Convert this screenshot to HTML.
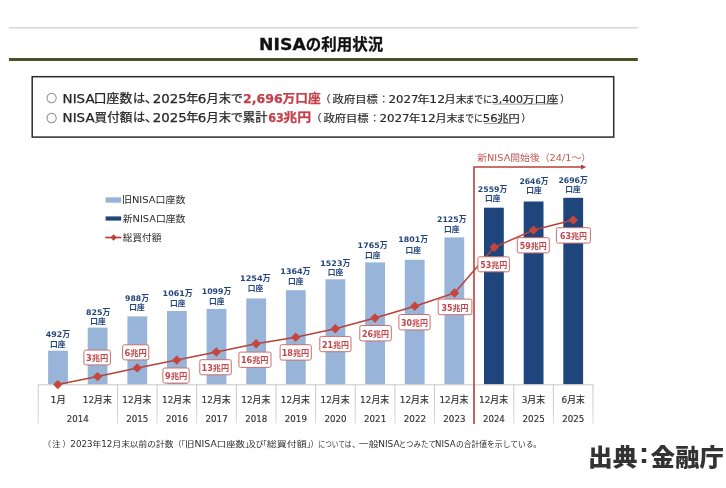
<!DOCTYPE html>
<html lang="ja"><head><meta charset="utf-8"><title>NISAの利用状況</title>
<style>
html,body{margin:0;padding:0;background:#fff;}
body{width:726px;height:488px;overflow:hidden;}
svg{display:block;font-family:"DejaVu Sans","Liberation Sans","Noto Sans CJK JP",sans-serif;filter:blur(0.35px);}
text{white-space:pre;}
</style></head><body>
<svg width="726" height="488" viewBox="0 0 726 488">
<rect width="726" height="488" fill="#fff"/>
<rect x="9.0" y="27.2" width="628.8" height="1.3" fill="#d2d2d2"/>
<rect x="9.0" y="58.0" width="628.8" height="3.0" fill="#465325"/>
<text x="259.13" y="50.12" font-size="15.5" font-weight="700" fill="#111" textLength="46.64" lengthAdjust="spacingAndGlyphs" stroke="#111" stroke-width="0.3">NISA</text>
<text x="305.80" y="50.48" font-size="15.5" font-weight="700" fill="#111" textLength="77.36" lengthAdjust="spacingAndGlyphs" stroke="#111" stroke-width="0.3">の利用状況</text>
<rect x="32.2" y="76.7" width="581.5" height="60.4" fill="#fff" stroke="#2b2b2b" stroke-width="1.5"/>
<text x="46.39" y="102.00" font-size="10.6" font-weight="400" fill="#999" textLength="10.71" lengthAdjust="spacingAndGlyphs" font-family='"Noto Sans CJK JP",sans-serif' stroke="#999" stroke-width="0.5">○</text>
<text x="46.39" y="121.50" font-size="10.6" font-weight="400" fill="#999" textLength="10.71" lengthAdjust="spacingAndGlyphs" font-family='"Noto Sans CJK JP",sans-serif' stroke="#999" stroke-width="0.5">○</text>
<text x="62.60" y="102.50" font-size="12" font-weight="400" fill="#262626" textLength="31.99" lengthAdjust="spacingAndGlyphs" stroke="#262626" stroke-width="0.25">NISA</text>
<text x="93.80" y="102.50" font-size="12" font-weight="400" fill="#262626" textLength="38.45" lengthAdjust="spacingAndGlyphs" stroke="#262626" stroke-width="0.25">口座数</text>
<text x="132.94" y="102.50" font-size="12" font-weight="400" fill="#262626" textLength="12.14" lengthAdjust="spacingAndGlyphs" stroke="#262626" stroke-width="0.25">は</text>
<text x="144.77" y="102.50" font-size="12" font-weight="400" fill="#262626" textLength="13.31" lengthAdjust="spacingAndGlyphs" stroke="#262626" stroke-width="0.25">、</text>
<text x="152.77" y="102.50" font-size="12" font-weight="400" fill="#262626" textLength="33.89" lengthAdjust="spacingAndGlyphs" stroke="#262626" stroke-width="0.25">2025</text>
<text x="186.19" y="102.50" font-size="12" font-weight="400" fill="#262626" textLength="12.23" lengthAdjust="spacingAndGlyphs" stroke="#262626" stroke-width="0.25">年</text>
<text x="197.76" y="102.50" font-size="12" font-weight="400" fill="#262626" textLength="8.56" lengthAdjust="spacingAndGlyphs" stroke="#262626" stroke-width="0.25">6</text>
<text x="206.49" y="102.50" font-size="12" font-weight="400" fill="#262626" textLength="36.54" lengthAdjust="spacingAndGlyphs" stroke="#262626" stroke-width="0.25">月末で</text>
<text x="243.05" y="102.50" font-size="12" font-weight="700" fill="#c5404c" textLength="39.80" lengthAdjust="spacingAndGlyphs" stroke="#c5404c" stroke-width="0.25">2,696</text>
<text x="282.64" y="102.50" font-size="12" font-weight="700" fill="#c5404c" textLength="38.01" lengthAdjust="spacingAndGlyphs" stroke="#c5404c" stroke-width="0.25">万口座</text>
<text x="320.60" y="102.50" font-size="10" font-weight="400" fill="#262626" stroke="#262626" stroke-width="0.15">（</text>
<text x="332.62" y="102.50" font-size="10" font-weight="400" fill="#262626" textLength="45.16" lengthAdjust="spacingAndGlyphs" stroke="#262626" stroke-width="0.15">政府目標</text>
<text x="378.75" y="102.50" font-size="10" font-weight="400" fill="#262626" stroke="#262626" stroke-width="0.15">：</text>
<text x="388.52" y="102.50" font-size="10" font-weight="400" fill="#262626" textLength="30.01" lengthAdjust="spacingAndGlyphs" stroke="#262626" stroke-width="0.15">2027</text>
<text x="417.28" y="102.50" font-size="10" font-weight="400" fill="#262626" textLength="12.44" lengthAdjust="spacingAndGlyphs" stroke="#262626" stroke-width="0.15">年</text>
<text x="429.37" y="102.50" font-size="10" font-weight="400" fill="#262626" textLength="15.64" lengthAdjust="spacingAndGlyphs" stroke="#262626" stroke-width="0.15">12</text>
<text x="444.64" y="102.50" font-size="10" font-weight="400" fill="#262626" textLength="22.21" lengthAdjust="spacingAndGlyphs" stroke="#262626" stroke-width="0.15">月末</text>
<text x="465.45" y="102.50" font-size="10" font-weight="400" fill="#262626" textLength="26.53" lengthAdjust="spacingAndGlyphs" stroke="#262626" stroke-width="0.15">までに</text>
<text x="491.68" y="102.50" font-size="10" font-weight="400" fill="#262626" textLength="31.43" lengthAdjust="spacingAndGlyphs" stroke="#262626" stroke-width="0.15">3,400</text>
<text x="522.60" y="102.50" font-size="10" font-weight="400" fill="#262626" textLength="35.79" lengthAdjust="spacingAndGlyphs" stroke="#262626" stroke-width="0.15">万口座</text>
<text x="559.90" y="102.50" font-size="10" font-weight="400" fill="#262626" stroke="#262626" stroke-width="0.15">）</text>
<rect x="492.7" y="103.7" width="65.1" height="0.8" fill="#8a8a8a"/>
<text x="62.60" y="121.90" font-size="12" font-weight="400" fill="#262626" textLength="31.99" lengthAdjust="spacingAndGlyphs" stroke="#262626" stroke-width="0.25">NISA</text>
<text x="94.62" y="121.90" font-size="12" font-weight="400" fill="#262626" textLength="37.62" lengthAdjust="spacingAndGlyphs" stroke="#262626" stroke-width="0.25">買付額</text>
<text x="132.94" y="121.90" font-size="12" font-weight="400" fill="#262626" textLength="12.14" lengthAdjust="spacingAndGlyphs" stroke="#262626" stroke-width="0.25">は</text>
<text x="144.77" y="121.90" font-size="12" font-weight="400" fill="#262626" textLength="13.31" lengthAdjust="spacingAndGlyphs" stroke="#262626" stroke-width="0.25">、</text>
<text x="152.77" y="121.90" font-size="12" font-weight="400" fill="#262626" textLength="33.89" lengthAdjust="spacingAndGlyphs" stroke="#262626" stroke-width="0.25">2025</text>
<text x="186.19" y="121.90" font-size="12" font-weight="400" fill="#262626" textLength="12.23" lengthAdjust="spacingAndGlyphs" stroke="#262626" stroke-width="0.25">年</text>
<text x="197.76" y="121.90" font-size="12" font-weight="400" fill="#262626" textLength="8.56" lengthAdjust="spacingAndGlyphs" stroke="#262626" stroke-width="0.25">6</text>
<text x="206.49" y="121.90" font-size="12" font-weight="400" fill="#262626" textLength="36.54" lengthAdjust="spacingAndGlyphs" stroke="#262626" stroke-width="0.25">月末で</text>
<text x="242.83" y="121.90" font-size="12" font-weight="400" fill="#262626" textLength="24.64" lengthAdjust="spacingAndGlyphs" stroke="#262626" stroke-width="0.25">累計</text>
<text x="268.20" y="121.90" font-size="12" font-weight="700" fill="#c5404c" textLength="15.59" lengthAdjust="spacingAndGlyphs" stroke="#c5404c" stroke-width="0.25">63</text>
<text x="283.22" y="121.90" font-size="12" font-weight="700" fill="#c5404c" textLength="27.87" lengthAdjust="spacingAndGlyphs" stroke="#c5404c" stroke-width="0.25">兆円</text>
<text x="311.60" y="121.90" font-size="10" font-weight="400" fill="#262626" stroke="#262626" stroke-width="0.15">（</text>
<text x="323.42" y="121.90" font-size="10" font-weight="400" fill="#262626" textLength="45.27" lengthAdjust="spacingAndGlyphs" stroke="#262626" stroke-width="0.15">政府目標</text>
<text x="369.75" y="121.90" font-size="10" font-weight="400" fill="#262626" stroke="#262626" stroke-width="0.15">：</text>
<text x="379.41" y="121.90" font-size="10" font-weight="400" fill="#262626" textLength="30.22" lengthAdjust="spacingAndGlyphs" stroke="#262626" stroke-width="0.15">2027</text>
<text x="408.71" y="121.90" font-size="10" font-weight="400" fill="#262626" textLength="11.78" lengthAdjust="spacingAndGlyphs" stroke="#262626" stroke-width="0.15">年</text>
<text x="420.28" y="121.90" font-size="10" font-weight="400" fill="#262626" textLength="15.52" lengthAdjust="spacingAndGlyphs" stroke="#262626" stroke-width="0.15">12</text>
<text x="435.44" y="121.90" font-size="10" font-weight="400" fill="#262626" textLength="22.21" lengthAdjust="spacingAndGlyphs" stroke="#262626" stroke-width="0.15">月末</text>
<text x="456.57" y="121.90" font-size="10" font-weight="400" fill="#262626" textLength="26.20" lengthAdjust="spacingAndGlyphs" stroke="#262626" stroke-width="0.15">までに</text>
<text x="482.73" y="121.90" font-size="10" font-weight="400" fill="#262626" textLength="14.84" lengthAdjust="spacingAndGlyphs" stroke="#262626" stroke-width="0.15">56</text>
<text x="497.24" y="121.90" font-size="10" font-weight="400" fill="#262626" textLength="22.40" lengthAdjust="spacingAndGlyphs" stroke="#262626" stroke-width="0.15">兆円</text>
<text x="521.30" y="121.90" font-size="10" font-weight="400" fill="#262626" stroke="#262626" stroke-width="0.15">）</text>
<rect x="484.1" y="123.1" width="34.7" height="0.8" fill="#8a8a8a"/>
<rect x="105.6" y="197.3" width="15.6" height="5.4" fill="#98b4d8"/>
<text x="121.95" y="203.43" font-size="9.5" font-weight="400" fill="#262626" textLength="63.44" lengthAdjust="spacingAndGlyphs">旧NISA口座数</text>
<rect x="105.6" y="216.4" width="15.6" height="4.2" fill="#1f467c"/>
<text x="122.74" y="222.03" font-size="9.5" font-weight="400" fill="#262626" textLength="62.65" lengthAdjust="spacingAndGlyphs">新NISA口座数</text>
<line x1="105.2" y1="237.5" x2="121.4" y2="237.5" stroke="#b8423a" stroke-width="1.7"/>
<path d="M113.6 234.3 L116.8 237.5 L113.6 240.7 L110.4 237.5 Z" fill="#b8423a"/>
<text x="122.75" y="241.12" font-size="9.5" font-weight="400" fill="#262626" textLength="38.52" lengthAdjust="spacingAndGlyphs">総買付額</text>
<rect x="48.1" y="350.7" width="19.8" height="33.6" fill="#98b4d8"/>
<rect x="87.7" y="327.6" width="19.8" height="56.7" fill="#98b4d8"/>
<rect x="127.4" y="316.4" width="19.8" height="67.9" fill="#98b4d8"/>
<rect x="167.0" y="311.0" width="19.8" height="73.3" fill="#98b4d8"/>
<rect x="206.6" y="308.9" width="19.8" height="75.4" fill="#98b4d8"/>
<rect x="246.3" y="298.4" width="19.8" height="85.9" fill="#98b4d8"/>
<rect x="285.9" y="290.2" width="19.8" height="94.1" fill="#98b4d8"/>
<rect x="325.5" y="279.3" width="19.8" height="105.0" fill="#98b4d8"/>
<rect x="365.2" y="262.4" width="19.8" height="121.9" fill="#98b4d8"/>
<rect x="404.8" y="259.8" width="19.8" height="124.5" fill="#98b4d8"/>
<rect x="444.4" y="237.4" width="19.8" height="146.9" fill="#98b4d8"/>
<rect x="484.0" y="207.7" width="19.8" height="176.6" fill="#1f467c"/>
<rect x="523.7" y="201.5" width="19.8" height="182.8" fill="#1f467c"/>
<rect x="563.3" y="197.8" width="19.8" height="186.5" fill="#1f467c"/>
<rect x="38.2" y="384.3" width="554.8" height="1.0" fill="#c9c9c9"/>
<defs><linearGradient id="vg" x1="0" y1="0" x2="0" y2="1"><stop offset="0" stop-color="#c6c6c6"/><stop offset="0.7" stop-color="#cfcfcf"/><stop offset="1" stop-color="#e2e2e2"/></linearGradient></defs>
<rect x="37.7" y="384.3" width="1.0" height="39.5" fill="url(#vg)"/>
<rect x="117.0" y="384.3" width="1.0" height="39.5" fill="url(#vg)"/>
<rect x="156.6" y="384.3" width="1.0" height="39.5" fill="url(#vg)"/>
<rect x="196.2" y="384.3" width="1.0" height="39.5" fill="url(#vg)"/>
<rect x="235.9" y="384.3" width="1.0" height="39.5" fill="url(#vg)"/>
<rect x="275.5" y="384.3" width="1.0" height="39.5" fill="url(#vg)"/>
<rect x="315.1" y="384.3" width="1.0" height="39.5" fill="url(#vg)"/>
<rect x="354.7" y="384.3" width="1.0" height="39.5" fill="url(#vg)"/>
<rect x="394.4" y="384.3" width="1.0" height="39.5" fill="url(#vg)"/>
<rect x="434.0" y="384.3" width="1.0" height="39.5" fill="url(#vg)"/>
<rect x="473.6" y="384.3" width="1.0" height="39.5" fill="url(#vg)"/>
<rect x="513.3" y="384.3" width="1.0" height="39.5" fill="url(#vg)"/>
<rect x="552.9" y="384.3" width="1.0" height="39.5" fill="url(#vg)"/>
<rect x="592.5" y="384.3" width="1.0" height="39.5" fill="url(#vg)"/>
<text x="50.55" y="403.00" font-size="8.8" font-weight="400" fill="#303030" textLength="15.37" lengthAdjust="spacingAndGlyphs" stroke="#303030" stroke-width="0.15">1月</text>
<text x="82.73" y="403.00" font-size="8.8" font-weight="400" fill="#303030" textLength="29.11" lengthAdjust="spacingAndGlyphs" stroke="#303030" stroke-width="0.15">12月末</text>
<text x="122.36" y="403.00" font-size="8.8" font-weight="400" fill="#303030" textLength="29.11" lengthAdjust="spacingAndGlyphs" stroke="#303030" stroke-width="0.15">12月末</text>
<text x="161.99" y="403.00" font-size="8.8" font-weight="400" fill="#303030" textLength="29.11" lengthAdjust="spacingAndGlyphs" stroke="#303030" stroke-width="0.15">12月末</text>
<text x="201.62" y="403.00" font-size="8.8" font-weight="400" fill="#303030" textLength="29.11" lengthAdjust="spacingAndGlyphs" stroke="#303030" stroke-width="0.15">12月末</text>
<text x="241.25" y="403.00" font-size="8.8" font-weight="400" fill="#303030" textLength="29.11" lengthAdjust="spacingAndGlyphs" stroke="#303030" stroke-width="0.15">12月末</text>
<text x="280.88" y="403.00" font-size="8.8" font-weight="400" fill="#303030" textLength="29.11" lengthAdjust="spacingAndGlyphs" stroke="#303030" stroke-width="0.15">12月末</text>
<text x="320.51" y="403.00" font-size="8.8" font-weight="400" fill="#303030" textLength="29.11" lengthAdjust="spacingAndGlyphs" stroke="#303030" stroke-width="0.15">12月末</text>
<text x="360.14" y="403.00" font-size="8.8" font-weight="400" fill="#303030" textLength="29.11" lengthAdjust="spacingAndGlyphs" stroke="#303030" stroke-width="0.15">12月末</text>
<text x="399.77" y="403.00" font-size="8.8" font-weight="400" fill="#303030" textLength="29.11" lengthAdjust="spacingAndGlyphs" stroke="#303030" stroke-width="0.15">12月末</text>
<text x="439.40" y="403.00" font-size="8.8" font-weight="400" fill="#303030" textLength="29.11" lengthAdjust="spacingAndGlyphs" stroke="#303030" stroke-width="0.15">12月末</text>
<text x="479.03" y="403.00" font-size="8.8" font-weight="400" fill="#303030" textLength="29.11" lengthAdjust="spacingAndGlyphs" stroke="#303030" stroke-width="0.15">12月末</text>
<text x="521.72" y="403.00" font-size="8.8" font-weight="400" fill="#303030" textLength="23.41" lengthAdjust="spacingAndGlyphs" stroke="#303030" stroke-width="0.15">3月末</text>
<text x="561.61" y="403.00" font-size="8.8" font-weight="400" fill="#303030" textLength="23.15" lengthAdjust="spacingAndGlyphs" stroke="#303030" stroke-width="0.15">6月末</text>
<text x="66.84" y="422.12" font-size="8.8" font-weight="400" fill="#303030" textLength="21.87" lengthAdjust="spacingAndGlyphs" stroke="#303030" stroke-width="0.15">2014</text>
<text x="126.28" y="422.12" font-size="8.8" font-weight="400" fill="#303030" textLength="22.13" lengthAdjust="spacingAndGlyphs" stroke="#303030" stroke-width="0.15">2015</text>
<text x="165.91" y="422.12" font-size="8.8" font-weight="400" fill="#303030" textLength="22.13" lengthAdjust="spacingAndGlyphs" stroke="#303030" stroke-width="0.15">2016</text>
<text x="205.54" y="422.12" font-size="8.8" font-weight="400" fill="#303030" textLength="22.13" lengthAdjust="spacingAndGlyphs" stroke="#303030" stroke-width="0.15">2017</text>
<text x="245.17" y="422.12" font-size="8.8" font-weight="400" fill="#303030" textLength="22.13" lengthAdjust="spacingAndGlyphs" stroke="#303030" stroke-width="0.15">2018</text>
<text x="284.80" y="422.12" font-size="8.8" font-weight="400" fill="#303030" textLength="22.13" lengthAdjust="spacingAndGlyphs" stroke="#303030" stroke-width="0.15">2019</text>
<text x="324.43" y="422.12" font-size="8.8" font-weight="400" fill="#303030" textLength="22.13" lengthAdjust="spacingAndGlyphs" stroke="#303030" stroke-width="0.15">2020</text>
<text x="364.06" y="422.12" font-size="8.8" font-weight="400" fill="#303030" textLength="22.13" lengthAdjust="spacingAndGlyphs" stroke="#303030" stroke-width="0.15">2021</text>
<text x="403.69" y="422.12" font-size="8.8" font-weight="400" fill="#303030" textLength="22.39" lengthAdjust="spacingAndGlyphs" stroke="#303030" stroke-width="0.15">2022</text>
<text x="443.32" y="422.12" font-size="8.8" font-weight="400" fill="#303030" textLength="22.13" lengthAdjust="spacingAndGlyphs" stroke="#303030" stroke-width="0.15">2023</text>
<text x="482.96" y="422.12" font-size="8.8" font-weight="400" fill="#303030" textLength="21.87" lengthAdjust="spacingAndGlyphs" stroke="#303030" stroke-width="0.15">2024</text>
<text x="522.58" y="422.12" font-size="8.8" font-weight="400" fill="#303030" textLength="22.13" lengthAdjust="spacingAndGlyphs" stroke="#303030" stroke-width="0.15">2025</text>
<text x="562.21" y="422.12" font-size="8.8" font-weight="400" fill="#303030" textLength="22.13" lengthAdjust="spacingAndGlyphs" stroke="#303030" stroke-width="0.15">2025</text>
<path d="M474 424 L474 167 L582 167" fill="none" stroke="#b8423a" stroke-width="1.6"/>
<path d="M581 164.6 L586.2 167 L581 169.4 Z" fill="#b8423a"/>
<text x="477.24" y="161.00" font-size="9.3" font-weight="400" fill="#c35855" textLength="113.84" lengthAdjust="spacingAndGlyphs">新NISA開始後（24/1～）</text>
<polyline points="57.8,384.6 97.6,376.6 137.2,367.9 176.7,360.1 216.3,352.0 256.1,343.8 295.7,337.3 335.3,328.8 374.9,318.0 414.8,306.3 454.5,293 494.2,247.2 533.5,230.1 573.2,220.0" fill="none" stroke="#b8423a" stroke-width="1.5" stroke-linejoin="round"/>
<path d="M57.8 379.9 L62.5 384.6 L57.8 389.3 L53.1 384.6 Z" fill="#c4463c"/>
<path d="M97.6 371.9 L102.3 376.6 L97.6 381.3 L92.9 376.6 Z" fill="#c4463c"/>
<path d="M137.2 363.2 L141.9 367.9 L137.2 372.6 L132.5 367.9 Z" fill="#c4463c"/>
<path d="M176.7 355.4 L181.4 360.1 L176.7 364.8 L172.0 360.1 Z" fill="#c4463c"/>
<path d="M216.3 347.3 L221.0 352.0 L216.3 356.7 L211.6 352.0 Z" fill="#c4463c"/>
<path d="M256.1 339.1 L260.8 343.8 L256.1 348.5 L251.4 343.8 Z" fill="#c4463c"/>
<path d="M295.7 332.6 L300.4 337.3 L295.7 342.0 L291.0 337.3 Z" fill="#c4463c"/>
<path d="M335.3 324.1 L340.0 328.8 L335.3 333.5 L330.6 328.8 Z" fill="#c4463c"/>
<path d="M374.9 313.3 L379.6 318.0 L374.9 322.7 L370.2 318.0 Z" fill="#c4463c"/>
<path d="M414.8 301.6 L419.5 306.3 L414.8 311.0 L410.1 306.3 Z" fill="#c4463c"/>
<path d="M454.5 288.3 L459.2 293 L454.5 297.7 L449.8 293 Z" fill="#c4463c"/>
<path d="M494.2 242.5 L498.9 247.2 L494.2 251.9 L489.5 247.2 Z" fill="#c4463c"/>
<path d="M533.5 225.4 L538.2 230.1 L533.5 234.8 L528.8 230.1 Z" fill="#c4463c"/>
<path d="M573.2 215.3 L577.9 220.0 L573.2 224.7 L568.5 220.0 Z" fill="#c4463c"/>
<text x="45.84" y="336.62" font-size="7.7" font-weight="700" fill="#23457b" textLength="24.37" lengthAdjust="spacingAndGlyphs">492万</text>
<text x="50.13" y="346.70" font-size="7.5" font-weight="700" fill="#23457b" textLength="15.43" lengthAdjust="spacingAndGlyphs">口座</text>
<text x="85.99" y="314.82" font-size="7.7" font-weight="700" fill="#23457b" textLength="24.32" lengthAdjust="spacingAndGlyphs">825万</text>
<text x="90.38" y="324.40" font-size="7.5" font-weight="700" fill="#23457b" textLength="15.43" lengthAdjust="spacingAndGlyphs">口座</text>
<text x="124.99" y="300.52" font-size="7.7" font-weight="700" fill="#23457b" textLength="24.01" lengthAdjust="spacingAndGlyphs">988万</text>
<text x="129.23" y="309.80" font-size="7.5" font-weight="700" fill="#23457b" textLength="15.43" lengthAdjust="spacingAndGlyphs">口座</text>
<text x="162.62" y="295.52" font-size="7.7" font-weight="700" fill="#23457b" textLength="30.13" lengthAdjust="spacingAndGlyphs">1061万</text>
<text x="170.13" y="306.00" font-size="7.5" font-weight="700" fill="#23457b" textLength="15.43" lengthAdjust="spacingAndGlyphs">口座</text>
<text x="201.74" y="294.43" font-size="7.7" font-weight="700" fill="#23457b" textLength="29.61" lengthAdjust="spacingAndGlyphs">1099万</text>
<text x="208.98" y="303.70" font-size="7.5" font-weight="700" fill="#23457b" textLength="15.43" lengthAdjust="spacingAndGlyphs">口座</text>
<text x="240.01" y="281.02" font-size="7.7" font-weight="700" fill="#23457b" textLength="30.65" lengthAdjust="spacingAndGlyphs">1254万</text>
<text x="247.78" y="290.50" font-size="7.5" font-weight="700" fill="#23457b" textLength="15.43" lengthAdjust="spacingAndGlyphs">口座</text>
<text x="280.32" y="274.43" font-size="7.7" font-weight="700" fill="#23457b" textLength="30.34" lengthAdjust="spacingAndGlyphs">1364万</text>
<text x="287.93" y="284.00" font-size="7.5" font-weight="700" fill="#23457b" textLength="15.43" lengthAdjust="spacingAndGlyphs">口座</text>
<text x="320.33" y="265.62" font-size="7.7" font-weight="700" fill="#23457b" textLength="30.03" lengthAdjust="spacingAndGlyphs">1523万</text>
<text x="327.78" y="275.10" font-size="7.5" font-weight="700" fill="#23457b" textLength="15.43" lengthAdjust="spacingAndGlyphs">口座</text>
<text x="357.63" y="247.72" font-size="7.7" font-weight="700" fill="#23457b" textLength="29.93" lengthAdjust="spacingAndGlyphs">1765万</text>
<text x="365.03" y="258.00" font-size="7.5" font-weight="700" fill="#23457b" textLength="15.43" lengthAdjust="spacingAndGlyphs">口座</text>
<text x="398.23" y="242.12" font-size="7.7" font-weight="700" fill="#23457b" textLength="29.82" lengthAdjust="spacingAndGlyphs">1801万</text>
<text x="405.58" y="252.50" font-size="7.5" font-weight="700" fill="#23457b" textLength="15.43" lengthAdjust="spacingAndGlyphs">口座</text>
<text x="436.99" y="221.53" font-size="7.7" font-weight="700" fill="#23457b" textLength="29.45" lengthAdjust="spacingAndGlyphs">2125万</text>
<text x="444.03" y="231.50" font-size="7.5" font-weight="700" fill="#23457b" textLength="15.43" lengthAdjust="spacingAndGlyphs">口座</text>
<text x="477.89" y="191.72" font-size="7.7" font-weight="700" fill="#23457b" textLength="29.45" lengthAdjust="spacingAndGlyphs">2559万</text>
<text x="484.93" y="201.40" font-size="7.5" font-weight="700" fill="#23457b" textLength="15.43" lengthAdjust="spacingAndGlyphs">口座</text>
<text x="519.40" y="183.53" font-size="7.7" font-weight="700" fill="#23457b" textLength="29.04" lengthAdjust="spacingAndGlyphs">2646万</text>
<text x="526.23" y="193.00" font-size="7.5" font-weight="700" fill="#23457b" textLength="15.43" lengthAdjust="spacingAndGlyphs">口座</text>
<text x="558.40" y="182.53" font-size="7.7" font-weight="700" fill="#23457b" textLength="29.35" lengthAdjust="spacingAndGlyphs">2696万</text>
<text x="565.38" y="192.10" font-size="7.5" font-weight="700" fill="#23457b" textLength="15.43" lengthAdjust="spacingAndGlyphs">口座</text>
<rect x="83.9" y="350.1" width="26.5" height="14.8" rx="1.8" fill="#fff" stroke="#cc6f6c" stroke-width="1"/>
<text x="86.05" y="361.23" font-size="8.2" font-weight="700" fill="#c0464b" textLength="22.29" lengthAdjust="spacingAndGlyphs">3兆円</text>
<rect x="122.6" y="344.8" width="26.2" height="15.1" rx="1.8" fill="#fff" stroke="#cc6f6c" stroke-width="1"/>
<text x="124.60" y="356.08" font-size="8.2" font-weight="700" fill="#c0464b" textLength="22.29" lengthAdjust="spacingAndGlyphs">6兆円</text>
<rect x="162.9" y="368.0" width="26.3" height="15.1" rx="1.8" fill="#fff" stroke="#cc6f6c" stroke-width="1"/>
<text x="164.95" y="379.28" font-size="8.2" font-weight="700" fill="#c0464b" textLength="22.29" lengthAdjust="spacingAndGlyphs">9兆円</text>
<rect x="199.8" y="359.7" width="31.5" height="15.1" rx="1.8" fill="#fff" stroke="#cc6f6c" stroke-width="1"/>
<text x="201.56" y="370.98" font-size="8.2" font-weight="700" fill="#c0464b" textLength="27.52" lengthAdjust="spacingAndGlyphs">13兆円</text>
<rect x="238.9" y="352.1" width="32.1" height="15.3" rx="1.8" fill="#fff" stroke="#cc6f6c" stroke-width="1"/>
<text x="240.96" y="363.48" font-size="8.2" font-weight="700" fill="#c0464b" textLength="27.52" lengthAdjust="spacingAndGlyphs">16兆円</text>
<rect x="280.1" y="344.7" width="31.2" height="15.4" rx="1.8" fill="#fff" stroke="#cc6f6c" stroke-width="1"/>
<text x="281.71" y="356.12" font-size="8.2" font-weight="700" fill="#c0464b" textLength="27.52" lengthAdjust="spacingAndGlyphs">18兆円</text>
<rect x="319.8" y="336.4" width="31.2" height="15.3" rx="1.8" fill="#fff" stroke="#cc6f6c" stroke-width="1"/>
<text x="321.91" y="347.77" font-size="8.2" font-weight="700" fill="#c0464b" textLength="27.00" lengthAdjust="spacingAndGlyphs">21兆円</text>
<rect x="359.8" y="325.5" width="31.5" height="15.4" rx="1.8" fill="#fff" stroke="#cc6f6c" stroke-width="1"/>
<text x="362.06" y="336.93" font-size="8.2" font-weight="700" fill="#c0464b" textLength="27.00" lengthAdjust="spacingAndGlyphs">26兆円</text>
<rect x="398.9" y="314.5" width="31.2" height="15.4" rx="1.8" fill="#fff" stroke="#cc6f6c" stroke-width="1"/>
<text x="401.01" y="325.93" font-size="8.2" font-weight="700" fill="#c0464b" textLength="27.00" lengthAdjust="spacingAndGlyphs">30兆円</text>
<rect x="438.2" y="299.1" width="33.7" height="15.6" rx="1.8" fill="#fff" stroke="#cc6f6c" stroke-width="1"/>
<text x="441.56" y="310.62" font-size="8.2" font-weight="700" fill="#c0464b" textLength="27.00" lengthAdjust="spacingAndGlyphs">35兆円</text>
<rect x="477.9" y="256.8" width="31.5" height="15.0" rx="1.8" fill="#fff" stroke="#cc6f6c" stroke-width="1"/>
<text x="480.16" y="268.03" font-size="8.2" font-weight="700" fill="#c0464b" textLength="27.00" lengthAdjust="spacingAndGlyphs">53兆円</text>
<rect x="517.3" y="237.7" width="32.0" height="15.2" rx="1.8" fill="#fff" stroke="#cc6f6c" stroke-width="1"/>
<text x="519.81" y="249.03" font-size="8.2" font-weight="700" fill="#c0464b" textLength="27.00" lengthAdjust="spacingAndGlyphs">59兆円</text>
<rect x="556.4" y="227.7" width="34.0" height="15.4" rx="1.8" fill="#fff" stroke="#cc6f6c" stroke-width="1"/>
<text x="559.91" y="239.12" font-size="8.2" font-weight="700" fill="#c0464b" textLength="27.00" lengthAdjust="spacingAndGlyphs">63兆円</text>
<text x="43.10" y="446.60" font-size="8" font-weight="400" fill="#2e2e2e">（</text>
<text x="52.24" y="446.60" font-size="8" font-weight="400" fill="#2e2e2e" textLength="8.21" lengthAdjust="spacingAndGlyphs">注</text>
<text x="62.40" y="446.60" font-size="8" font-weight="400" fill="#2e2e2e">）</text>
<text x="70.35" y="446.60" font-size="8" font-weight="400" fill="#2e2e2e" textLength="103.17" lengthAdjust="spacingAndGlyphs">2023年12月末以前の計数</text>
<text x="173.40" y="446.60" font-size="8" font-weight="400" fill="#2e2e2e">（</text>
<text x="177.35" y="446.60" font-size="8" font-weight="400" fill="#2e2e2e">「</text>
<text x="185.13" y="446.60" font-size="8" font-weight="400" fill="#2e2e2e" textLength="59.82" lengthAdjust="spacingAndGlyphs">旧NISA口座数</text>
<text x="245.15" y="446.60" font-size="8" font-weight="400" fill="#2e2e2e">」</text>
<text x="248.16" y="446.60" font-size="8" font-weight="400" fill="#2e2e2e" textLength="15.28" lengthAdjust="spacingAndGlyphs">及び</text>
<text x="258.75" y="446.60" font-size="8" font-weight="400" fill="#2e2e2e">「</text>
<text x="266.69" y="446.60" font-size="8" font-weight="400" fill="#2e2e2e" textLength="40.23" lengthAdjust="spacingAndGlyphs">総買付額</text>
<text x="306.85" y="446.60" font-size="8" font-weight="400" fill="#2e2e2e">」</text>
<text x="310.60" y="446.60" font-size="8" font-weight="400" fill="#2e2e2e">）</text>
<text x="318.47" y="446.60" font-size="8" font-weight="400" fill="#2e2e2e" textLength="33.03" lengthAdjust="spacingAndGlyphs">については</text>
<text x="352.00" y="446.60" font-size="8" font-weight="400" fill="#2e2e2e">、</text>
<text x="358.89" y="446.60" font-size="8" font-weight="400" fill="#2e2e2e" textLength="19.82" lengthAdjust="spacingAndGlyphs">一般</text>
<text x="378.16" y="446.60" font-size="8" font-weight="400" fill="#2e2e2e" textLength="21.40" lengthAdjust="spacingAndGlyphs">NISA</text>
<text x="398.79" y="446.60" font-size="8" font-weight="400" fill="#2e2e2e" textLength="37.18" lengthAdjust="spacingAndGlyphs">とつみたて</text>
<text x="435.09" y="446.60" font-size="8" font-weight="400" fill="#2e2e2e" textLength="20.46" lengthAdjust="spacingAndGlyphs">NISA</text>
<text x="455.97" y="446.60" font-size="8" font-weight="400" fill="#2e2e2e" textLength="77.56" lengthAdjust="spacingAndGlyphs">の合計値を示している</text>
<text x="533.35" y="446.60" font-size="8" font-weight="400" fill="#2e2e2e">。</text>
<text x="588.09" y="465.85" font-size="24" font-weight="900" fill="#333" textLength="49.33" lengthAdjust="spacingAndGlyphs" font-family='"Liberation Sans","Noto Sans CJK JP",sans-serif' stroke="#fff" stroke-width="2.5" paint-order="stroke" stroke-opacity="0.85">出典</text>
<text x="638.72" y="463.27" font-size="29" font-weight="700" fill="#333" textLength="10.47" lengthAdjust="spacingAndGlyphs" font-family='"Liberation Sans",sans-serif' stroke="#fff" stroke-width="2.5" paint-order="stroke" stroke-opacity="0.85">:</text>
<text x="650.75" y="465.85" font-size="24" font-weight="900" fill="#333" textLength="73.01" lengthAdjust="spacingAndGlyphs" font-family='"Liberation Sans","Noto Sans CJK JP",sans-serif' stroke="#fff" stroke-width="2.5" paint-order="stroke" stroke-opacity="0.85">金融庁</text>
</svg>
</body></html>
